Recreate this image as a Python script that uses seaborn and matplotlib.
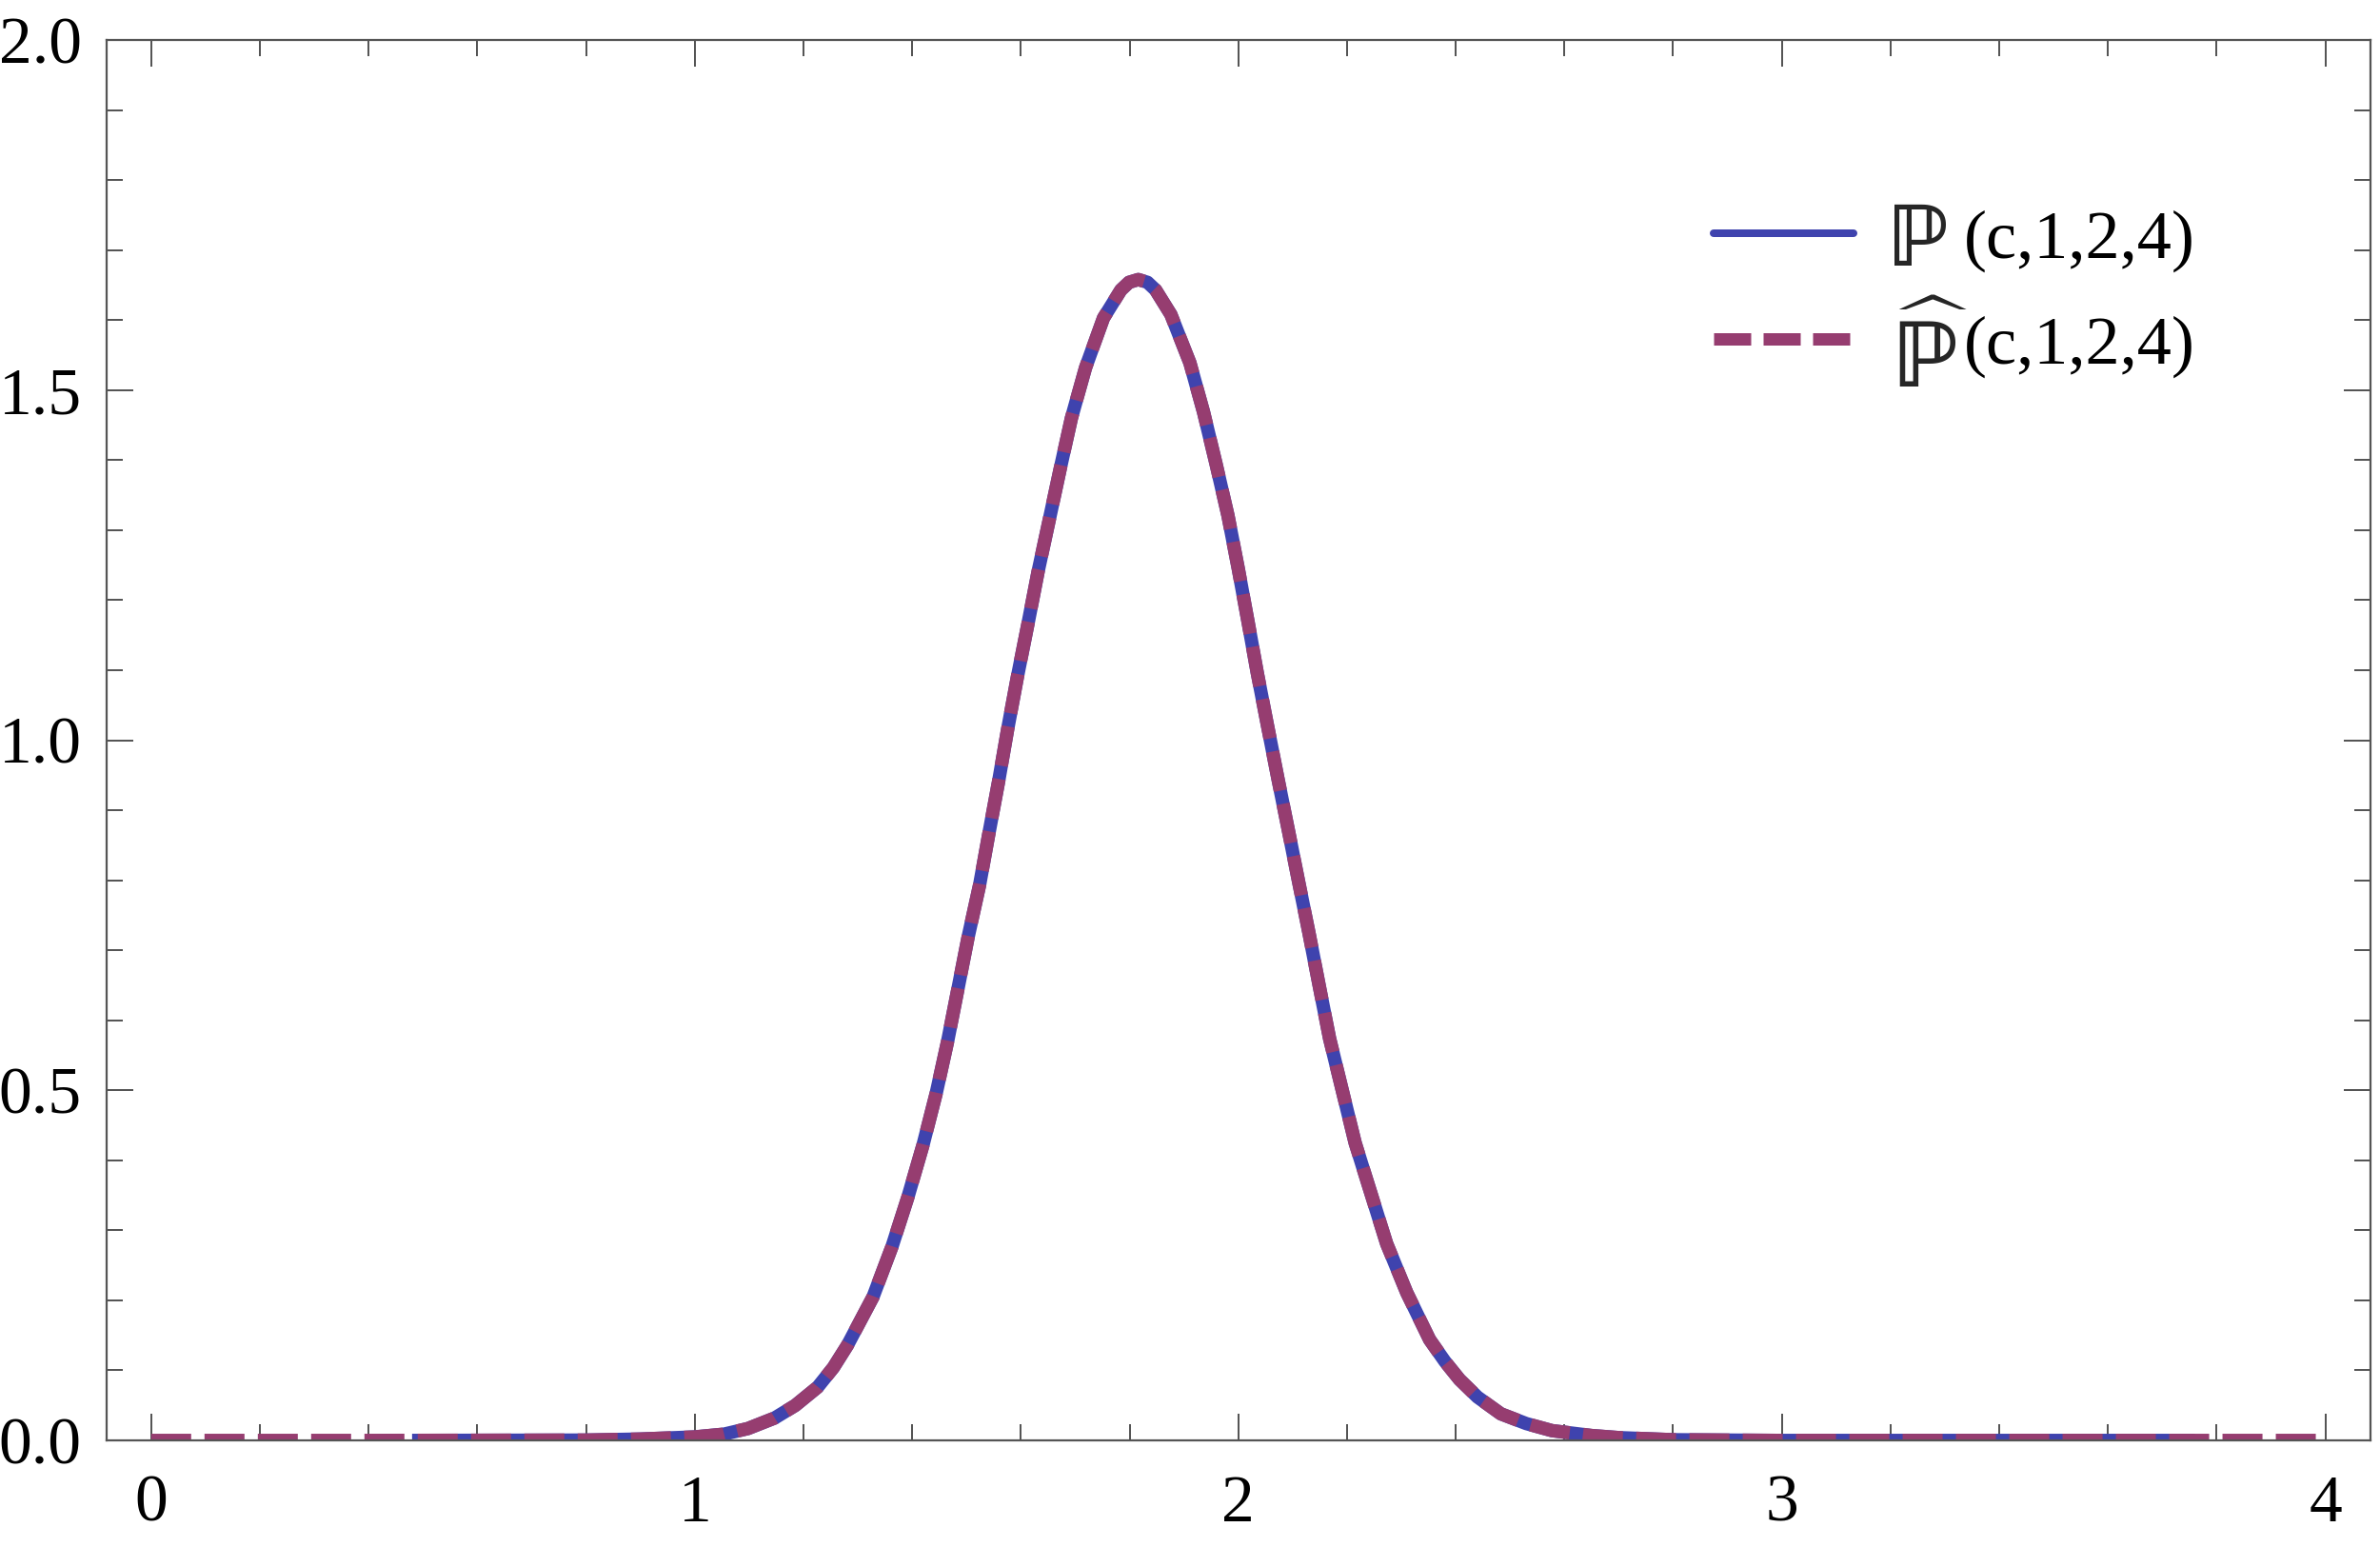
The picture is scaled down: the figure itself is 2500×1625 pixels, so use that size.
import matplotlib
matplotlib.use("Agg")
import matplotlib.pyplot as plt
import seaborn as sns
import numpy as np
import pandas as pd
from matplotlib.ticker import MultipleLocator, FormatStrFormatter

# values (approximation P-hat, dashed)
x_hat = [0.0, 0.4, 0.8, 0.9, 1.0, 1.054, 1.098, 1.147, 1.185, 1.226, 1.255,
         1.281, 1.328, 1.363, 1.392, 1.420, 1.444, 1.465, 1.484, 1.503, 1.524,
         1.541, 1.559, 1.576, 1.594, 1.613, 1.632, 1.652, 1.673, 1.693, 1.719,
         1.752, 1.784, 1.799, 1.816, 1.833, 1.848, 1.876, 1.911, 1.936, 1.959,
         1.981, 2.000, 2.018, 2.035, 2.054, 2.073, 2.092, 2.111, 2.130, 2.149,
         2.168, 2.191, 2.215, 2.244, 2.273, 2.310, 2.352, 2.380, 2.407, 2.440,
         2.483, 2.530, 2.577, 2.65, 2.7, 2.8, 3.0, 3.5, 4.0]
p_hat = [0.0, 0.0, 0.0005, 0.002, 0.005, 0.009, 0.017, 0.032, 0.050, 0.076,
         0.104, 0.136, 0.205, 0.277, 0.347, 0.422, 0.495, 0.569, 0.644, 0.719,
         0.793, 0.866, 0.941, 1.017, 1.092, 1.166, 1.242, 1.314, 1.390, 1.460,
         1.532, 1.603, 1.643, 1.654, 1.658, 1.654, 1.643, 1.608, 1.539, 1.469,
         1.395, 1.321, 1.245, 1.169, 1.096, 1.020, 0.945, 0.872, 0.798, 0.725,
         0.649, 0.574, 0.501, 0.425, 0.353, 0.281, 0.211, 0.144, 0.113, 0.087,
         0.062, 0.038, 0.024, 0.014, 0.007, 0.004, 0.001, 0.0, 0.0, 0.0]

# exact P, solid (only drawn between ~0.48 and ~3.76 in the reference)
x_exact = [0.48, 0.8, 0.9, 1.0, 1.054, 1.098, 1.147, 1.185, 1.226, 1.255,
           1.281, 1.328, 1.363, 1.392, 1.420, 1.444, 1.465, 1.484, 1.503, 1.524,
           1.541, 1.559, 1.576, 1.594, 1.613, 1.632, 1.652, 1.673, 1.693, 1.719,
           1.752, 1.784, 1.799, 1.816, 1.833, 1.848, 1.876, 1.911, 1.936, 1.959,
           1.981, 2.000, 2.018, 2.035, 2.054, 2.073, 2.092, 2.111, 2.130, 2.149,
           2.168, 2.191, 2.215, 2.244, 2.273, 2.310, 2.352, 2.380, 2.407, 2.440,
           2.483, 2.530, 2.577, 2.65, 2.7, 2.8, 3.0, 3.5, 3.76]
p_exact = [0.0, 0.0005, 0.002, 0.005, 0.009, 0.017, 0.032, 0.050, 0.076,
           0.104, 0.136, 0.205, 0.277, 0.347, 0.422, 0.495, 0.569, 0.644, 0.719,
           0.793, 0.866, 0.941, 1.017, 1.092, 1.166, 1.242, 1.314, 1.390, 1.460,
           1.532, 1.603, 1.643, 1.654, 1.658, 1.654, 1.643, 1.608, 1.539, 1.469,
           1.395, 1.321, 1.245, 1.169, 1.096, 1.020, 0.945, 0.872, 0.798, 0.725,
           0.649, 0.574, 0.501, 0.425, 0.353, 0.281, 0.211, 0.144, 0.113, 0.087,
           0.062, 0.038, 0.024, 0.014, 0.007, 0.004, 0.001, 0.0, 0.0, 0.0]

legend_args = "(c,1,2,4)"
sym_exact = r"$\mathbf{ℙ}$"
sym_hat = r"$\widehat{\mathbf{ℙ}}$"

x_ticks = [0, 1, 2, 3, 4]
y_ticks = [0.0, 0.5, 1.0, 1.5, 2.0]

blue = "#3F43AE"
purple = "#963D70"

sns.set_theme(style="ticks")
plt.rcParams["font.family"] = ["Liberation Serif", "DejaVu Serif"]
plt.rcParams["mathtext.fontset"] = "stix"

df_exact = pd.DataFrame({"c": x_exact, "p": p_exact})
df_hat = pd.DataFrame({"c": x_hat, "p": p_hat})

fig = plt.figure(figsize=(25, 16.25), dpi=100)
ax = fig.add_axes([0.0448, 0.0689, 0.9512, 0.9052])

lw = 14 * 72 / 100  # 14 px
sns.lineplot(data=df_exact, x="c", y="p", ax=ax, color=blue, linewidth=lw,
             label=legend_args, solid_capstyle="butt")
sns.lineplot(data=df_hat, x="c", y="p", ax=ax, color=purple, linewidth=lw,
             label=legend_args)
ax.lines[1].set_linestyle((0, (3.0, 1.0)))
ax.lines[1].set_dash_capstyle("butt")

ax.set_xlim(-0.082, 4.083)
ax.set_ylim(0, 2.0)
ax.set_xlabel("")
ax.set_ylabel("")

ax.set_xticks(x_ticks)
ax.set_yticks(y_ticks)
ax.xaxis.set_minor_locator(MultipleLocator(0.2))
ax.yaxis.set_minor_locator(MultipleLocator(0.1))
ax.yaxis.set_major_formatter(FormatStrFormatter("%.1f"))
ax.tick_params(which="both", direction="in", top=True, right=True,
               color="#222222", width=1.1, labelsize=50, labelcolor="black")
ax.tick_params(which="major", length=20)
ax.tick_params(which="minor", length=12)
ax.tick_params(axis="y", pad=19)
ax.tick_params(axis="x", pad=26)
for s in ax.spines.values():
    s.set_color("#555555")
    s.set_linewidth(1.6)

# legend: handles + "(c,1,2,4)", the double-struck P symbols go in front
leg = ax.legend(loc="upper left", bbox_to_anchor=(0.7098, 0.879), frameon=False,
                fontsize=52, borderpad=0, borderaxespad=0, handlelength=2.04,
                handletextpad=1.6, labelspacing=0.62)
for t in leg.get_texts():
    t.set_color("black")
leg.get_lines()[0].set_linewidth(8 * 72 / 100)
leg.get_lines()[0].set_solid_capstyle("round")
leg.get_lines()[1].set_linewidth(13 * 72 / 100)

ax.text(0.786, 0.839, sym_exact, transform=ax.transAxes, fontsize=63,
        math_fontfamily="dejavusans", ha="left", va="baseline")
ax.text(0.788, 0.752, sym_hat, transform=ax.transAxes, fontsize=68,
        math_fontfamily="dejavusans", ha="left", va="baseline")

fig.savefig("out.png", dpi=100)
